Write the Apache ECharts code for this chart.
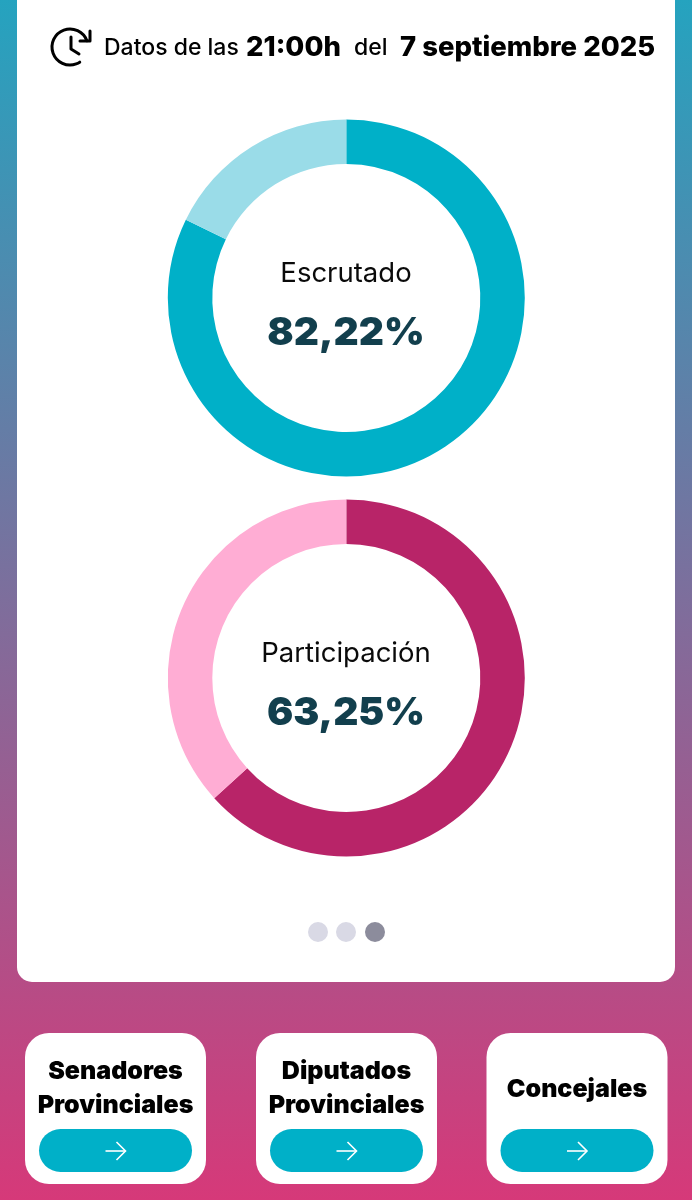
<!DOCTYPE html>
<html>
<head>
<meta charset="utf-8">
<style>html,body{margin:0;padding:0;background:#fff}#chart{width:692px;height:1200px}</style>
<script src="https://cdn.jsdelivr.net/npm/echarts@6/dist/echarts.min.js"></script>
</head>
<body>
<div id="chart"></div>
<script>
var escrutadoValues = [82.22, 17.78];
var escrutadoColors = ['#00B0C8', '#9ADCE8'];
var participacionValues = [63.25, 36.75];
var participacionColors = ['#B82468', '#FFADD4'];
var dotColors = ['#D9D9E5', '#D9D9E5', '#8C8C9C'];
var buttonLabels = [['Senadores', 'Provinciales'], ['Diputados', 'Provinciales'], ['Concejales']];

var fontName = 'Inter';
var graphics = [];

function addText(x, y, text, size, weight, color, align) {
    graphics.push({
        type: 'text', z: 10, x: x, y: y,
        style: { text: text, font: weight + ' ' + size + 'px ' + fontName, fill: color, align: align || 'left', verticalAlign: 'middle' }
    });
}

// fondo y tarjeta
graphics.push({
    type: 'rect', z: 0, shape: { x: 0, y: 0, width: 692, height: 1200 },
    style: { fill: new echarts.graphic.LinearGradient(0, 0, 0, 1, [
        { offset: 0, color: '#25A3BF' },
        { offset: 1, color: '#D63979' }
    ]) }
});
graphics.push({
    type: 'rect', z: 1, shape: { x: 17, y: -30, width: 658, height: 1012, r: 15 },
    style: { fill: '#fff' }
});

// cabecera
var clockStroke = { stroke: '#000', lineWidth: 3, fill: 'none', lineCap: 'round', lineJoin: 'round' };
graphics.push({
    type: 'arc', z: 10, shape: { cx: 70, cy: 47, r: 18, startAngle: -0.35, endAngle: 1.0, clockwise: false },
    style: clockStroke
});
graphics.push({ type: 'polyline', z: 10, shape: { points: [[71, 37], [71, 49], [79, 54]] }, style: clockStroke });
graphics.push({ type: 'polyline', z: 10, shape: { points: [[90, 31], [90, 41], [80, 41]] }, style: clockStroke });

addText(104, 48, 'Datos de las', 23, 500, '#000');
addText(246, 48, '21:00h', 27.5, 800, '#000');
addText(354, 48, 'del', 23, 500, '#000');
addText(400, 48, '7 septiembre 2025', 27.5, 800, '#000');

// centro de los anillos
addText(346, 274, 'Escrutado', 27.5, 400, '#0A0A0A', 'center');
addText(346, 333, '82,22%', 39, 900, '#123F4D', 'center');
addText(346, 654, 'Participación', 27.5, 400, '#0A0A0A', 'center');
addText(346, 713, '63,25%', 39, 900, '#123F4D', 'center');

// paginador
[318, 346, 375].forEach(function (x, i) {
    graphics.push({ type: 'circle', z: 10, shape: { cx: x, cy: 932, r: 10 }, style: { fill: dotColors[i] } });
});

// botones
[25, 256, 486.5].forEach(function (x, i) {
    graphics.push({ type: 'rect', z: 2, shape: { x: x, y: 1033, width: 181, height: 151, r: 24 }, style: { fill: '#fff' } });
    graphics.push({ type: 'rect', z: 3, shape: { x: x + 14, y: 1129, width: 153, height: 43, r: 21.5 }, style: { fill: '#00B0C8' } });
    var mid = x + 90.5;
    var arrow = { stroke: '#fff', lineWidth: 1.6, fill: 'none' };
    graphics.push({ type: 'polyline', z: 10, shape: { points: [[mid - 10, 1151], [mid + 10, 1151]] }, style: arrow });
    graphics.push({ type: 'polyline', z: 10, shape: { points: [[mid + 1, 1142], [mid + 10, 1151], [mid + 1, 1160]] }, style: arrow });
    var lines = buttonLabels[i];
    if (lines.length === 2) {
        addText(mid, 1071, lines[0], 25, 900, '#000', 'center');
        addText(mid, 1105, lines[1], 25, 900, '#000', 'center');
    } else {
        addText(mid, 1089, lines[0], 25, 900, '#000', 'center');
    }
});

function ring(cy, values, colors) {
    return {
        type: 'pie',
        center: [346.3, cy],
        radius: [134, 178.5],
        startAngle: 90,
        clockwise: true,
        silent: true,
        z: 5,
        label: { show: false },
        labelLine: { show: false },
        data: values.map(function (v, i) {
            return { value: v, itemStyle: { color: colors[i] } };
        })
    };
}

var myChart = echarts.init(document.getElementById('chart'));
myChart.setOption({
    animation: false,
    graphic: { elements: graphics },
    series: [
        ring(298, escrutadoValues, escrutadoColors),
        ring(678, participacionValues, participacionColors)
    ]
});
</script>
</body>
</html>
